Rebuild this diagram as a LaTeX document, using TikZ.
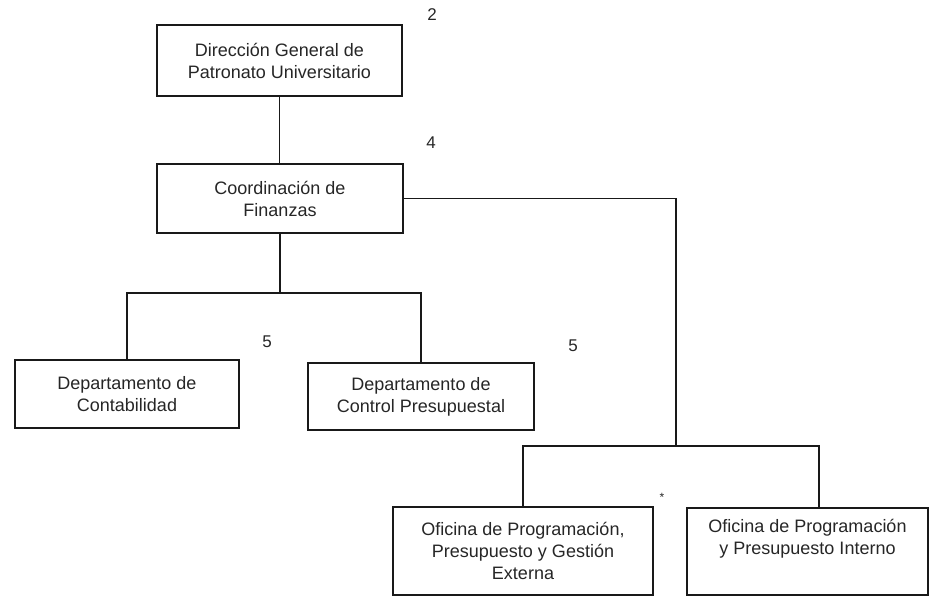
\documentclass[tikz,border=0pt]{standalone}
\usepackage{fontspec}
\setmainfont{Liberation Sans}
\begin{document}
\begin{tikzpicture}[x=1pt,y=-1pt,
  box/.style={draw=black!90, line width=1.7pt, inner sep=0pt, align=center,
    font=\fontsize{18}{22}\selectfont, text=black!85},
  lab/.style={inner sep=0pt, font=\fontsize{17}{20}\selectfont, text=black!85},
  conn/.style={draw=black!90, line width=1.7pt}]
\useasboundingbox (0,0) rectangle (940,597);
\node[box, minimum width=245, minimum height=71] (dg) at (279.5,60.5)
  {Dirección General de\\Patronato Universitario};
\node[box, minimum width=246, minimum height=69] (cf) at (280,198.5)
  {Coordinación de\\Finanzas};
\node[box, minimum width=224, minimum height=68] (dc) at (127,394)
  {Departamento de\\Contabilidad};
\node[box, minimum width=226, minimum height=67] (dp) at (421,396.5)
  {Departamento de\\Control Presupuestal};
\node[box, minimum width=260, minimum height=88] (op) at (523,551)
  {Oficina de Programación,\\Presupuesto y Gestión\\Externa};
\node[box, minimum width=241, minimum height=87] (oi) at (807.5,551.5)
  {Oficina de Programación\\y Presupuesto Interno\\\strut};
\node[lab] (n2) at (432,15) {2};
\node[lab] (n4) at (431,143) {4};
\node[lab] (n5a) at (267,342) {5};
\node[lab] (n5b) at (573,346) {5};
\node[lab, font=\fontsize{12}{14}\selectfont] (ast) at (662,497) {*};
\coordinate (j1) at (280,293);
\coordinate (j2) at (676,446);
\coordinate (t6) at (819,0);
\draw[conn] (dg.south) -- (dg.south |- cf.north);
\draw[conn] (cf.south) -- (j1);
\draw[conn] (dc.north) -- (dc.north |- j1) -- (dp.north |- j1) -- (dp.north);
\draw[conn] (cf.east) -| (j2);
\draw[conn] (op.north) -- (op.north |- j2) -- (t6 |- j2) -- (t6 |- oi.north);
\end{tikzpicture}
\end{document}
